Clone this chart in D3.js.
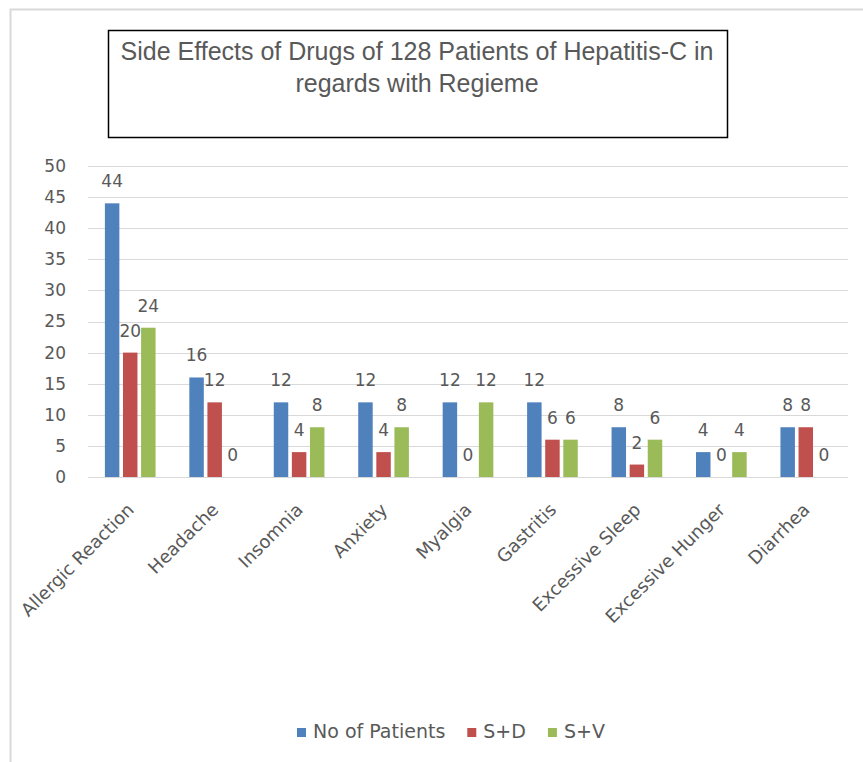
<!DOCTYPE html>
<html lang="en">
<head>
<meta charset="utf-8">
<title>Side Effects of Drugs</title>
<script src="https://cdnjs.cloudflare.com/ajax/libs/d3/7.8.5/d3.min.js"></script>
<style>
  body { margin: 0; background: #fff; }
  svg text { font-family: "DejaVu Sans", sans-serif; fill: #595959; }
  .title { font-family: "Liberation Sans", sans-serif; }
</style>
</head>
<body>
<div id="chart"></div>
<script>
// data
const categories = ["Allergic Reaction", "Headache", "Insomnia", "Anxiety", "Myalgia",
                    "Gastritis", "Excessive Sleep", "Excessive Hunger", "Diarrhea"];
const seriesNames = ["No of Patients", "S+D", "S+V"];
const patients = [44, 16, 12, 12, 12, 12, 8, 4, 8];
const sd = [20, 12, 4, 4, 0, 6, 2, 0, 8];
const sv = [24, 0, 8, 8, 12, 6, 6, 4, 0];
const yTicks = [0, 5, 10, 15, 20, 25, 30, 35, 40, 45, 50];
const colors = ["#4F81BD", "#C0504D", "#9BBB59"];

const W = 863, H = 762;
const plotL = 88, plotR = 848, plotT = 166, plotB = 477;

const svg = d3.select("#chart").append("svg")
  .attr("width", W).attr("height", H);

// outer chart border
svg.append("rect")
  .attr("x", 10.5).attr("y", 9.5)
  .attr("width", W + 10).attr("height", H + 10)
  .attr("fill", "none").attr("stroke", "#d9d9d9").attr("stroke-width", 2);

// title box
svg.append("rect")
  .attr("x", 108.5).attr("y", 30.5)
  .attr("width", 619).attr("height", 107)
  .attr("fill", "#fff").attr("stroke", "#000").attr("stroke-width", 1.5);

const titleLines = ["Side Effects of Drugs of 128 Patients of Hepatitis-C in", "regards with Regieme"];
svg.selectAll(".title").data(titleLines).enter().append("text")
  .attr("class", "title")
  .attr("x", 417).attr("y", (d, i) => 60 + i * 32)
  .attr("text-anchor", "middle")
  .style("font-size", "25px")
  .text(d => d);

const x0 = d3.scaleBand().domain(categories).range([plotL, plotR]).paddingInner(0.4).paddingOuter(0.2);
const x1 = d3.scaleBand().domain(seriesNames).range([0, x0.bandwidth()]).paddingInner(0.2);
const y = d3.scaleLinear().domain([0, 50]).range([plotB, plotT]);

// gridlines
svg.append("g").selectAll("line").data(yTicks).enter().append("line")
  .attr("x1", plotL).attr("x2", plotR)
  .attr("y1", d => Math.round(y(d)) + 0.5).attr("y2", d => Math.round(y(d)) + 0.5)
  .attr("stroke", "#d9d9d9").attr("stroke-width", 1);

// y axis labels
const yAxis = d3.axisLeft(y).tickValues(yTicks).tickSize(0).tickPadding(0);
const gy = svg.append("g").attr("transform", "translate(66,0)").call(yAxis);
gy.select(".domain").remove();
gy.attr("font-family", null).attr("font-size", null);
gy.selectAll("text").style("font-size", "17px").attr("fill", "#595959");

// bars
const rows = categories.map((c, i) => ({cat: c, vals: [patients[i], sd[i], sv[i]]}));
const groups = svg.append("g").selectAll("g").data(rows).enter().append("g")
  .attr("transform", d => "translate(" + x0(d.cat) + ",0)");

groups.selectAll("rect").data(d => d.vals.map((v, k) => ({v: v, s: seriesNames[k], k: k})))
  .enter().append("rect")
  .attr("x", d => x1(d.s))
  .attr("y", d => y(d.v))
  .attr("width", x1.bandwidth())
  .attr("height", d => y(0) - y(d.v))
  .attr("fill", d => colors[d.k]);

groups.selectAll("text").data(d => d.vals.map((v, k) => ({v: v, s: seriesNames[k]})))
  .enter().append("text")
  .attr("x", d => x1(d.s) + x1.bandwidth() / 2)
  .attr("y", d => y(d.v) - 16)
  .attr("text-anchor", "middle")
  .style("font-size", "17px")
  .text(d => d.v);

// x axis labels, rotated
svg.append("g").selectAll("text").data(categories).enter().append("text")
  .attr("transform", d => "translate(" + (x0(d) + x0.bandwidth() / 2 - 4) + ",502) rotate(-45)")
  .attr("text-anchor", "end")
  .attr("dy", "0.7em")
  .style("font-size", "18px")
  .text(d => d);

// legend
const legend = svg.append("g");
let lx = 297;
seriesNames.forEach((name, k) => {
  legend.append("rect")
    .attr("x", lx).attr("y", 728).attr("width", 9).attr("height", 9)
    .attr("fill", colors[k]);
  const t = legend.append("text")
    .attr("x", lx + 16).attr("y", 738)
    .style("font-size", "19px")
    .text(name);
  lx += 16 + t.node().getComputedTextLength() + 22;
});
</script>
</body>
</html>
